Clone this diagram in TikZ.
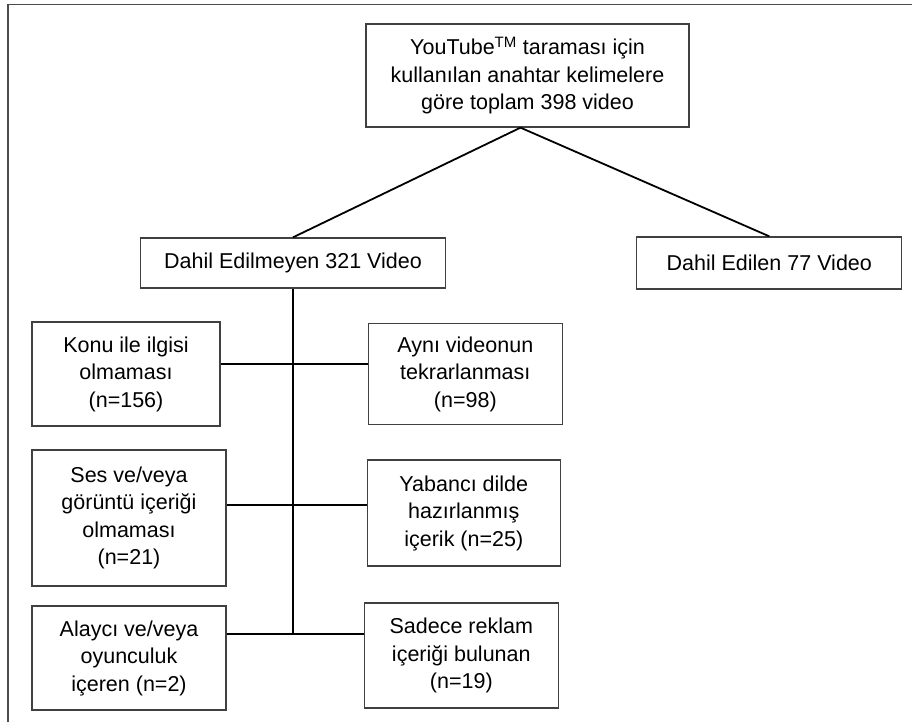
\documentclass[tikz,border=0pt]{standalone}
\usepackage{fontspec}
\setmainfont{Liberation Sans}
\usetikzlibrary{positioning}
\tikzstyle{flow_style}=[
	x=1pt,y=-1pt,
	box/.style={rectangle,draw=black!75,line width=1.3pt,fill=white,align=center,inner sep=0pt,font=\fontsize{21.5}{27.5}\selectfont},
	link/.style={line width=1.8pt,black},
	frame/.style={line width=1.6pt,black!70}
]

\begin{document}
\begin{tikzpicture}[flow_style]
			\useasboundingbox (0,0) rectangle (912,722);
			\draw[frame] (912,4.5) -- (8,4.5) -- (8,722);
			
			%total
			\node[box,minimum width=323pt,minimum height=103pt] (total) at (527.5,75.5) {YouTube\textsuperscript{TM} taraması için\\kullanılan anahtar kelimelere\\göre toplam 398 video};
			\coordinate (apex) at ([xshift=-7pt]total.south);
			
			%excluded / included
			\node[box,minimum width=305pt,minimum height=50pt] (excl) at (293,263) {Dahil Edilmeyen 321 Video};
			\node[box,minimum width=265pt,minimum height=52pt] (incl) [right=190pt of excl] {Dahil Edilen 77 Video};
			
			%reasons, left
			\node[box,minimum width=188pt,minimum height=104pt] (konu) at (126,374) {Konu ile ilgisi\\olmaması\\(n=156)};
			\node[box,minimum width=194pt,minimum height=136pt] (ses) at (129,518) {Ses ve/veya\\görüntü içeriği\\olmaması\\(n=21)};
			\node[box,minimum width=194pt,minimum height=104pt] (alayci) at (129,658) {Alaycı ve/veya\\oyunculuk\\içeren (n=2)};
			
			%reasons, right
			\node[box,minimum width=194pt,minimum height=101pt] (ayni) [right=147pt of konu] {Aynı videonun\\tekrarlanması\\(n=98)};
			\node[box,minimum width=193pt,minimum height=106pt] (yabanci) [right=140pt of ses,yshift=5pt] {Yabancı dilde\\hazırlanmış\\içerik (n=25)};
			\node[box,minimum width=194pt,minimum height=105pt] (sadece) [right=137pt of alayci,yshift=2.5pt] {Sadece reklam\\içeriği bulunan\\(n=19)};
			
			%spine
			\path (excl.south) ++(0,75) coordinate (j1)
			(excl.south) ++(0,216) coordinate (j2)
			(excl.south) ++(0,345) coordinate (j3);
			
			\draw[link] (apex) -- (excl.north);
			\draw[link] (apex) -- (incl.north);
			\draw[link] (excl.south) -- (j3);
			\draw[link] (konu.east |- j1) -- (ayni.west |- j1);
			\draw[link] (ses.east |- j2) -- (yabanci.west |- j2);
			\draw[link] (alayci.east |- j3) -- (sadece.west |- j3);
			
\end{tikzpicture}
\end{document}
